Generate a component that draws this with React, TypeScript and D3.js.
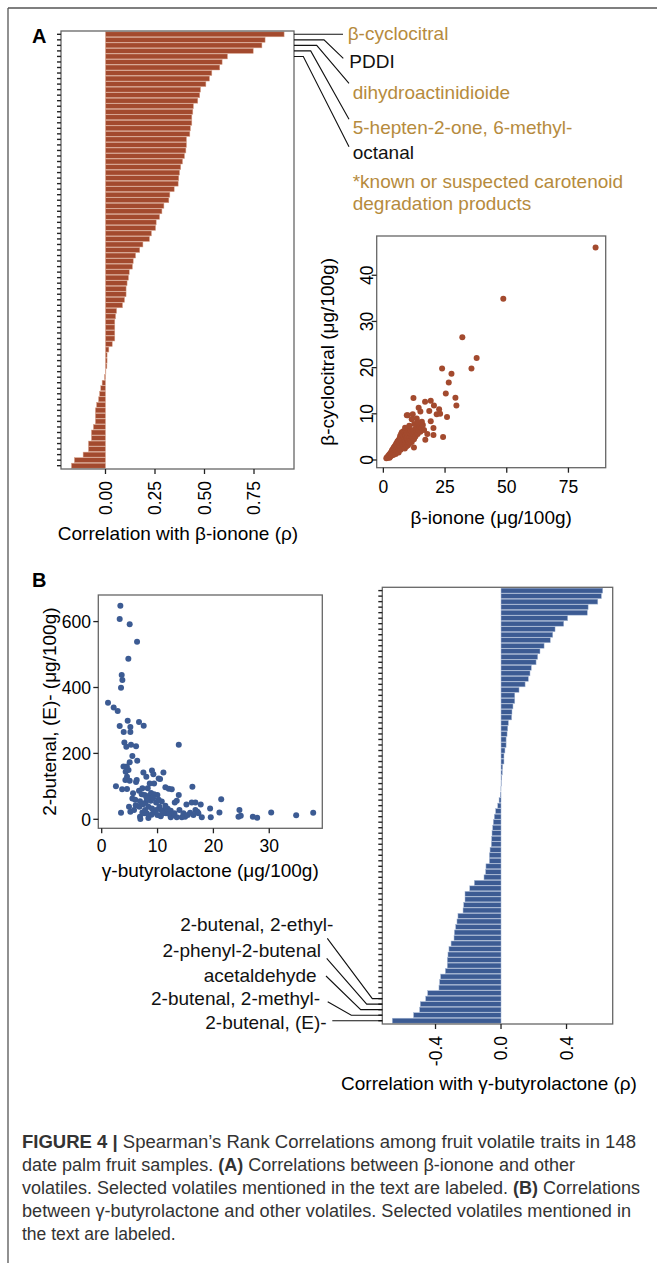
import React from "react";
import * as d3 from "d3";

// ---- data ----
// panel A: correlation of every other volatile with beta-ionone (sorted)
const barsA = [
  0.902, 0.806, 0.79, 0.746, 0.616, 0.589, 0.577, 0.537, 0.525, 0.507,
  0.48, 0.476, 0.466, 0.444, 0.441, 0.436, 0.436, 0.429, 0.426, 0.409,
  0.409, 0.406, 0.399, 0.389, 0.38, 0.374, 0.37, 0.367, 0.347, 0.325,
  0.32, 0.295, 0.285, 0.273, 0.256, 0.253, 0.232, 0.222, 0.189, 0.173,
  0.152, 0.14, 0.136, 0.12, 0.116, 0.109, 0.104, 0.104, 0.096, 0.086,
  0.056, 0.051, 0.047, 0.047, 0.047, 0.047, 0.034, 0.017, 0.008, 0.008,
  0.007, 0.002, -0.005, -0.017, -0.024, -0.03, -0.035, -0.045, -0.051, -0.051,
  -0.051, -0.061, -0.071, -0.071, -0.086, -0.086, -0.113, -0.157, -0.172,
];
const labelsA = ["β-cyclocitral", "PDDI", "dihydroactinidioide", "5-hepten-2-one, 6-methyl-", "octanal"];
const labelBarsA = [0, 1, 2, 3, 4];
const carotenoidA = [true, false, true, true, false];
const noteA = ["*known or suspected carotenoid", "degradation products"];
const ticksBarA = [0, 0.25, 0.5, 0.75];
const tickLabelsBarA = ["0.00", "0.25", "0.50", "0.75"];

// panel A scatter: beta-ionone (x) vs beta-cyclocitral (y), ug/100g
const scatterA: [number, number][] = [
  [86.0, 46.0], [48.6, 34.9], [32.0, 26.6], [37.8, 22.1], [23.8, 19.8], [35.7, 19.8],
  [27.6, 18.7], [26.5, 16.8], [25.3, 14.4], [29.2, 13.5], [29.6, 11.8], [25.8, 9.3],
  [24.2, 5.0], [12.2, 13.4], [16.9, 12.6], [19.2, 12.8], [20.5, 11.8], [18.6, 10.6],
  [22.6, 11.0], [21.6, 9.9], [23.0, 10.0], [14.3, 11.3], [15.0, 10.5], [9.9, 9.7],
  [11.9, 9.9], [19.2, 8.4], [20.3, 6.9], [20.3, 5.4], [17.0, 4.4], [17.8, 5.6],
  [15.6, 8.3], [12.4, 2.7], [13.5, 9.0], [11.5, 8.8],
  [1.2, 0.4], [1.5, 0.6], [1.8, 0.5], [2.0, 0.9], [2.2, 0.7], [2.4, 1.2], [2.5, 0.5],
  [2.7, 1.0], [2.9, 1.5], [3.0, 0.8], [3.1, 1.3], [3.3, 1.8], [3.4, 1.0], [3.5, 2.1],
  [3.6, 1.4], [3.8, 1.7], [3.9, 2.4], [4.0, 1.1], [4.1, 2.0], [4.2, 2.7], [4.3, 1.5],
  [4.5, 2.2], [4.6, 3.0], [4.7, 1.8], [4.8, 2.6], [5.0, 1.3], [5.0, 3.3], [5.1, 2.1],
  [5.2, 2.9], [5.3, 3.6], [5.4, 1.7], [5.5, 2.5], [5.6, 3.1], [5.7, 4.0], [5.8, 2.0],
  [5.9, 2.8], [6.0, 3.5], [6.1, 4.3], [6.2, 1.6], [6.3, 2.4], [6.4, 3.2], [6.5, 3.9],
  [6.6, 4.7], [6.7, 2.9], [6.8, 5.2], [6.9, 3.6], [7.0, 2.2], [7.1, 4.4], [7.2, 5.6],
  [7.3, 3.1], [7.4, 4.0], [7.5, 6.0], [7.6, 2.6], [7.7, 4.8], [7.8, 3.5], [7.9, 5.4],
  [8.0, 4.2], [8.1, 6.2], [8.2, 3.0], [8.3, 5.0], [8.4, 3.8], [8.5, 5.8], [8.6, 4.5],
  [8.7, 2.5], [8.8, 6.1], [8.9, 3.4], [9.0, 5.3], [9.1, 4.1], [9.2, 6.4], [9.3, 2.9],
  [9.4, 4.8], [9.5, 5.7], [9.6, 3.7], [9.7, 6.0], [9.8, 4.4], [9.9, 5.1], [10.0, 3.2],
  [10.1, 6.3], [10.2, 4.0], [10.3, 5.5], [10.5, 4.7], [10.6, 6.1], [10.7, 3.6], [10.8, 5.9],
  [11.0, 4.3], [11.1, 6.5], [11.3, 5.2], [11.5, 3.9], [11.6, 6.0], [11.8, 4.9], [12.0, 5.6],
  [12.2, 6.4], [12.4, 4.5], [12.6, 5.9], [12.8, 6.6], [13.0, 5.1], [13.3, 6.2], [13.6, 7.0],
  [13.9, 5.6], [14.2, 6.5], [14.6, 7.3], [15.0, 6.1], [15.5, 6.9], [16.0, 7.6], [16.5, 6.5],
  [9.5, 9.7], [8.8, 7.0], [12.5, 7.8], [14.0, 8.2], [10.5, 7.4],
];
const ticksScAx = [0, 25, 50, 75];
const ticksScAy = [0, 10, 20, 30, 40];

// panel B scatter: gamma-butyrolactone (x) vs 2-butenal, (E)- (y)
const scatterB: [number, number][] = [
  [3.34, 648], [3.22, 608], [5.01, 592], [6.33, 539], [4.77, 487], [3.58, 438], [3.7, 423],
  [3.46, 399], [1.13, 354], [2.14, 339], [2.86, 329], [4.65, 299], [6.68, 295], [7.52, 284],
  [3.22, 283], [3.94, 265], [5.13, 280], [5.13, 265], [4.06, 233], [4.41, 220], [5.25, 226],
  [6.15, 222], [13.8, 226], [5.49, 192], [5.01, 173], [3.9, 160], [4.5, 160], [6.36, 178],
  [4.29, 144], [4.8, 150], [4.53, 129], [4.24, 119], [5.01, 117], [6.15, 113], [6.27, 119],
  [2.55, 100], [3.66, 91], [4.53, 92], [7.46, 142], [7.99, 129], [9.0, 148], [9.25, 137],
  [8.6, 109], [9.38, 109], [10.45, 122], [11.05, 142], [10.2, 124], [11.4, 97], [12.0, 93],
  [12.54, 91], [16.24, 99], [5.61, 79], [6.68, 87], [7.16, 76], [7.7, 74], [8.4, 71],
  [9.97, 74], [13.8, 74], [5.49, 63], [6.0, 59], [6.86, 55], [7.88, 51], [8.78, 56],
  [9.74, 51], [10.33, 38], [8.36, 38], [13.44, 56], [13.08, 51], [15.17, 45], [16.12, 51],
  [16.78, 51], [17.73, 45], [21.4, 61], [19.41, 33], [21.08, 21], [17.92, 6], [19.53, 6],
  [24.66, 28], [24.9, 11], [24.49, 8], [27.06, 8], [27.84, 5], [30.35, 21], [34.82, 12],
  [37.87, 20], [3.46, 20], [5.13, 23], [5.79, 28], [6.86, 8], [6.92, 1], [8.36, 4],
  [7.58, 18], [9.25, 20], [9.97, 13], [10.57, 9], [11.52, 18], [11.94, 23], [12.36, 6],
  [12.84, 12], [13.92, 28], [14.64, 18], [14.94, 8], [15.41, 13], [15.83, 20], [14.34, 6],
  [13.44, 6], [11.35, 28], [10.63, 28], [9.0, 33], [8.06, 18], [7.28, 21], [8.9, 14],
  [6.74, 38], [7.4, 46], [6.09, 43], [4.89, 38], [11.82, 32], [12.36, 26], [16.78, 28],
  [17.13, 23], [17.31, 18], [10.75, 54], [11.4, 41], [8.24, 94], [8.84, 80], [9.38, 76],
  [7.28, 94], [8.06, 64], [9.2, 64], [10.2, 59], [9.74, 28], [10.93, 18], [12.12, 16],
  [13.02, 18], [16.42, 13], [7.76, 28],
];
const ticksScBx = [0, 10, 20, 30];
const ticksScBy = [0, 200, 400, 600];

// panel B: correlation of every other volatile with gamma-butyrolactone (sorted)
const barsB = [
  0.621, 0.613, 0.591, 0.532, 0.527, 0.407, 0.383, 0.33, 0.316, 0.301,
  0.263, 0.238, 0.224, 0.214, 0.185, 0.177, 0.167, 0.147, 0.11, 0.084,
  0.084, 0.073, 0.067, 0.065, 0.045, 0.041, 0.037, 0.031, 0.031, 0.024,
  0.018, 0.018, 0.01, 0.008, 0.004, 0.002, -0.001, -0.004, -0.012, -0.02,
  -0.033, -0.041, -0.047, -0.051, -0.055, -0.057, -0.059, -0.067, -0.071, -0.071,
  -0.092, -0.094, -0.104, -0.163, -0.191, -0.22, -0.22, -0.228, -0.232, -0.263,
  -0.269, -0.277, -0.285, -0.287, -0.305, -0.318, -0.324, -0.328, -0.328, -0.34,
  -0.369, -0.375, -0.379, -0.448, -0.46, -0.493, -0.497, -0.534, -0.664,
];
const labelsB = ["2-butenal, 2-ethyl-", "2-phenyl-2-butenal", "acetaldehyde", "2-butenal, 2-methyl-", "2-butenal, (E)-"];
const labelBarsB = [74, 75, 76, 77, 78];
const ticksBarB = [-0.4, 0, 0.4];
const tickLabelsBarB = ["-0.4", "0.0", "0.4"];

// ---- layout / style ----
const FONT = "'Liberation Sans', Arial, Helvetica, sans-serif";
const RUST = "#a34a2e";
const NAVY = "#3c5b93";
const GOLD = "#b68b3d";
const FRAME = "#666";
const TITLE = 19;
const TICK = 17.5;

// annotation geometry for panel A labels (elbow x, end point, text anchor)
const annA = [
  { elbow: 343, end: [343, null], text: [347.7, 40] },
  { elbow: 324, end: [343.3, 58.3], text: [349.3, 68.3] },
  { elbow: 316.7, end: [349, 83.3], text: [352.7, 99.3] },
  { elbow: 310.7, end: [349, 119.3], text: [352.7, 133.5] },
  { elbow: 303.3, end: [349, 146.7], text: [352.7, 159.3] },
];
const annB = [
  { elbow: 372.3, end: [327.3, 938.3], text: [333.3, 931] },
  { elbow: 366.7, end: [326.7, 958.3], text: [321, 957.3] },
  { elbow: 360.7, end: [326, 976], text: [316.7, 981.7] },
  { elbow: 351.3, end: [327.7, 1001.7], text: [320, 1005] },
  { elbow: 332.3, end: [332.3, null], text: [326.7, 1029] },
];

function CorrBars({ values, box, domain, ticks, tickLabels, color, edge, title, titleX, titleY }: any) {
  const [x0, x1, y0, y1] = box;
  const x = d3.scaleLinear().domain(domain).range([x0, x1]);
  const y = d3
    .scaleBand()
    .domain(values.map((_: number, i: number) => String(i)))
    .range([y0, y1])
    .paddingInner(0.1)
    .paddingOuter(0.15);
  return (
    <g>
      {values.map((v: number, i: number) => (
        <rect
          key={i}
          x={Math.min(x(0), x(v))}
          y={y(String(i))}
          width={Math.abs(x(v) - x(0))}
          height={y.bandwidth()}
          fill={color}
          stroke={edge}
          strokeWidth={0.5}
        />
      ))}
      <rect x={x0} y={y0} width={x1 - x0} height={y1 - y0} fill="none" stroke={FRAME} strokeWidth={1.3} />
      {values.map((_: number, i: number) => (
        <line key={i} x1={x0 - 4} x2={x0} y1={y(String(i))! + y.bandwidth() / 2} y2={y(String(i))! + y.bandwidth() / 2} stroke="#222" strokeWidth={1.4} />
      ))}
      {ticks.map((t: number, i: number) => (
        <g key={i} transform={`translate(${x(t)},${y1})`}>
          <line y2={5} stroke="#222" strokeWidth={1.3} />
          <text transform="translate(0,12) rotate(-90)" textAnchor="end" dy="0.36em" fontSize={TICK}>
            {tickLabels[i]}
          </text>
        </g>
      ))}
      <text x={titleX} y={titleY} textAnchor="middle" fontSize={TITLE}>{title}</text>
    </g>
  );
}

function Scatter({ pts, box, xDomain, yDomain, xTicks, yTicks, color, rotateY, xTitle, yTitle, yTitleX, yLabelX }: any) {
  const [x0, x1, y0, y1] = box;
  const x = d3.scaleLinear().domain(xDomain).range([x0, x1]);
  const y = d3.scaleLinear().domain(yDomain).range([y1, y0]);
  return (
    <g>
      <rect x={x0} y={y0} width={x1 - x0} height={y1 - y0} fill="#fff" stroke={FRAME} strokeWidth={1.3} />
      {pts.map((p: [number, number], i: number) => (
        <circle key={i} cx={x(p[0])} cy={y(p[1])} r={3} fill={color} />
      ))}
      {xTicks.map((t: number) => (
        <g key={t} transform={`translate(${x(t)},${y1})`}>
          <line y2={5} stroke="#222" strokeWidth={1.3} />
          <text y={y1 > 600 ? 24 : 25.5} textAnchor="middle" fontSize={TICK}>{t}</text>
        </g>
      ))}
      {yTicks.map((t: number) => (
        <g key={t} transform={`translate(${x0},${y(t)})`}>
          <line x2={-5} stroke="#222" strokeWidth={1.3} />
          {rotateY ? (
            <text transform={`translate(${yLabelX - x0},0) rotate(-90)`} textAnchor="middle" fontSize={TICK}>{t}</text>
          ) : (
            <text x={yLabelX - x0} dy="0.36em" textAnchor="end" fontSize={TICK}>{t}</text>
          )}
        </g>
      ))}
      <text x={(x0 + x1) / 2} y={xTitle[1]} textAnchor="middle" fontSize={TITLE}>{xTitle[0]}</text>
      <text transform={`translate(${yTitleX},${(y0 + y1) / 2}) rotate(-90)`} textAnchor="middle" fontSize={TITLE}>{yTitle}</text>
    </g>
  );
}

export default function App() {
  const boxBarA = [61, 294, 31, 469];
  const boxBarB = [382.3, 612.7, 587.3, 1024];
  const yA = d3.scaleBand().domain(barsA.map((_, i) => String(i))).range([boxBarA[2], boxBarA[3]]).paddingInner(0.1).paddingOuter(0.15);
  const yB = d3.scaleBand().domain(barsB.map((_, i) => String(i))).range([boxBarB[2], boxBarB[3]]).paddingInner(0.1).paddingOuter(0.15);
  const cA = (i: number) => yA(String(i))! + yA.bandwidth() / 2;
  const cB = (i: number) => yB(String(i))! + yB.bandwidth() / 2;

  return (
    <svg
      width={657}
      height={1263}
      viewBox="0 0 657 1263"
      style={{ position: "absolute", left: 0, top: 0, background: "#fff" }}
      fontFamily={FONT}
    >
      <rect width={657} height={1263} fill="#fff" />
      <line x1={8} x2={657} y1={8} y2={8} stroke="#555" strokeWidth={1.3} />
      <line x1={8} x2={8} y1={8} y2={1263} stroke="#555" strokeWidth={1.3} />

      <text x={32} y={42.5} fontSize={20} fontWeight="bold">A</text>
      <text x={32} y={587} fontSize={20} fontWeight="bold">B</text>

      {/* panel A bars */}
      <CorrBars
        values={barsA}
        box={boxBarA}
        domain={[-0.2247, 0.952]}
        ticks={ticksBarA}
        tickLabels={tickLabelsBarA}
        color={RUST}
        edge="#d9a58f"
        title="Correlation with β-ionone (ρ)"
        titleX={178}
        titleY={540}
      />
      {labelsA.map((name, k) => {
        const a = annA[k];
        const by = cA(labelBarsA[k]);
        const ey = a.end[1] == null ? by : a.end[1];
        return (
          <g key={name}>
            <polyline points={`${boxBarA[1]},${by} ${a.elbow},${by} ${a.end[0]},${ey}`} fill="none" stroke="#111" strokeWidth={1.1} />
            <text x={a.text[0]} y={a.text[1]} fontSize={TITLE} fill={carotenoidA[k] ? GOLD : "#111"}>{name}</text>
          </g>
        );
      })}
      {noteA.map((t, i) => (
        <text key={t} x={352.7} y={188.3 + i * 21.5} fontSize={TITLE} fill={GOLD}>{t}</text>
      ))}

      {/* panel A scatter */}
      <Scatter
        pts={scatterA}
        box={[376.7, 605.7, 236, 467.7]}
        xDomain={[-2.7, 90.1]}
        yDomain={[-1.67, 48.5]}
        xTicks={ticksScAx}
        yTicks={ticksScAy}
        color={RUST}
        rotateY={true}
        yLabelX={373}
        xTitle={["β-ionone (μg/100g)", 523.5]}
        yTitle="β-cyclocitral (μg/100g)"
        yTitleX={334}
      />

      {/* panel B scatter */}
      <Scatter
        pts={scatterB}
        box={[98.3, 322.3, 595, 828.3]}
        xDomain={[-0.61, 39.5]}
        yDomain={[-27.3, 680.7]}
        xTicks={ticksScBx}
        yTicks={ticksScBy}
        color={NAVY}
        rotateY={false}
        yLabelX={91}
        xTitle={["γ-butyrolactone (μg/100g)", 877]}
        yTitle="2-butenal, (E)- (μg/100g)"
        yTitleX={56}
      />

      {/* panel B bars */}
      <CorrBars
        values={barsB}
        box={boxBarB}
        domain={[-0.725, 0.682]}
        ticks={ticksBarB}
        tickLabels={tickLabelsBarB}
        color={NAVY}
        edge="#a9bad6"
        title="Correlation with γ-butyrolactone (ρ)"
        titleX={489}
        titleY={1090}
      />
      {labelsB.map((name, k) => {
        const a = annB[k];
        const by = cB(labelBarsB[k]);
        const ey = a.end[1] == null ? by : a.end[1];
        return (
          <g key={name}>
            <polyline points={`${boxBarB[0]},${by} ${a.elbow},${by} ${a.end[0]},${ey}`} fill="none" stroke="#111" strokeWidth={1.1} />
            <text x={a.text[0]} y={a.text[1]} textAnchor="end" fontSize={TITLE} fill="#111">{name}</text>
          </g>
        );
      })}

      {/* caption */}
      <g fontSize={17.5} fill="#333">
        <text x={22} y={1148} textLength={614} lengthAdjust="spacingAndGlyphs">
          <tspan fontWeight="bold">FIGURE 4 |</tspan> Spearman’s Rank Correlations among fruit volatile traits in 148
        </text>
        <text x={22} y={1171} textLength={553} lengthAdjust="spacingAndGlyphs">
          date palm fruit samples. <tspan fontWeight="bold">(A)</tspan> Correlations between β-ionone and other
        </text>
        <text x={22} y={1194} textLength={618} lengthAdjust="spacingAndGlyphs">
          volatiles. Selected volatiles mentioned in the text are labeled. <tspan fontWeight="bold">(B)</tspan> Correlations
        </text>
        <text x={22} y={1217} textLength={609} lengthAdjust="spacingAndGlyphs">
          between γ-butyrolactone and other volatiles. Selected volatiles mentioned in
        </text>
        <text x={22} y={1240}>the text are labeled.</text>
      </g>
    </svg>
  );
}
